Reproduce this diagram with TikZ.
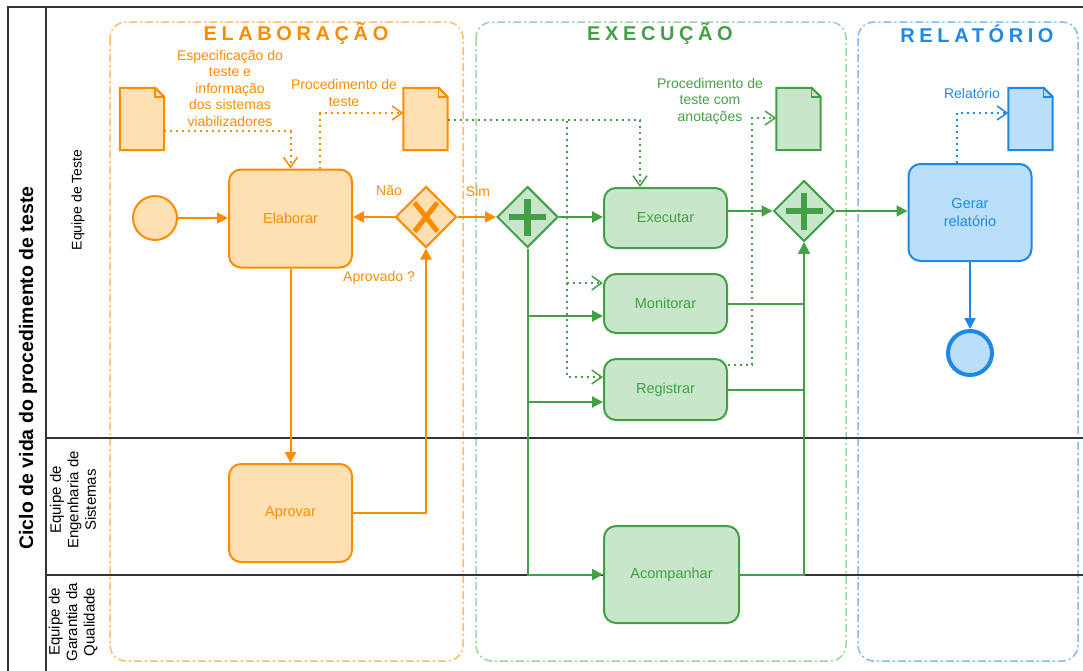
\documentclass[tikz,border=0pt]{standalone}
\usepackage{fontspec}
\setmainfont{Liberation Sans}
\usetikzlibrary{arrows.meta,shapes.geometric}
\definecolor{oStroke}{HTML}{FB8C00}
\definecolor{oFill}{HTML}{FFE0B2}
\definecolor{oPhase}{HTML}{FFBD6B}
\definecolor{gStroke}{HTML}{43A047}
\definecolor{gFill}{HTML}{C8E6C9}
\definecolor{gPhase}{HTML}{9FD3A1}
\definecolor{bStroke}{HTML}{1E88E5}
\definecolor{bFill}{HTML}{BBDEFB}
\definecolor{bPhase}{HTML}{7DBDF3}
\definecolor{poolLine}{HTML}{333333}

% data object with a folded top-right corner, drawn over a named frame node
\newcommand\dataobject[2]{%
  \draw[line width=2pt,draw=#2Stroke,fill=#2Fill,line join=miter]
    (#1.north west) -- ([xshift=-9pt]#1.north east) -- ([yshift=-9pt]#1.north east)
    -- (#1.south east) -- (#1.south west) -- cycle;
  \draw[line width=1.5pt,draw=#2Stroke]
    ([xshift=-9pt]#1.north east) -- ([xshift=-9pt,yshift=-9pt]#1.north east)
    -- ([yshift=-9pt]#1.north east);}

\begin{document}
\begin{tikzpicture}[x=1pt,y=-1pt,
  lbl/.style={font=\fontsize{14}{16.5}\selectfont,align=center,inner sep=0pt},
  task/.style={rounded corners=12pt,line width=2pt,inner sep=0pt,align=center,
    font=\fontsize{14.5}{17.5}\selectfont},
  otask/.style={task,draw=oStroke,fill=oFill,text=oStroke},
  gtask/.style={task,draw=gStroke,fill=gFill,text=gStroke},
  btask/.style={task,draw=bStroke,fill=bFill,text=bStroke},
  gate/.style={diamond,aspect=1,minimum width=61pt,minimum height=61pt,inner sep=0pt,line width=2pt},
  docframe/.style={minimum width=44pt,minimum height=62pt,inner sep=0pt,draw=none},
  phase/.style={rounded corners=16pt,line width=1.5pt,dash pattern=on 8pt off 3pt on 2pt off 3pt},
  phasetitle/.style={font=\fontsize{20}{22}\bfseries\selectfont\addfontfeature{LetterSpace=23}},
  flow/.style={line width=2pt,-{Triangle[length=11pt,width=11pt]}},
  assoc/.style={line width=2pt,dash pattern=on 2pt off 4pt,
    -{Straight Barb[length=10pt,width=14pt,line width=1.5pt]}},
  poolrule/.style={line width=2pt,draw=poolLine},
  lanelabel/.style={rotate=90,align=center,font=\fontsize{15}{17.5}\selectfont}
]
\useasboundingbox (0,0) rectangle (1083,670);

% phase containers
\draw[phase,draw=oPhase] (110,22) rectangle (463,661);
\draw[phase,draw=gPhase] (476,22) rectangle (846,661);
\draw[phase,draw=bPhase] (858,22) rectangle (1078,661);

\node[phasetitle,text=oStroke] (tElab) at (296,34) {ELABORAÇÃO};
\node[phasetitle,text=gStroke] (tExec) at (660,34) {EXECUÇÃO};
\node[phasetitle,text=bStroke] (tRel) at (977,34) {RELATÓRIO};

% pool and lanes
\draw[poolrule] (1085,7) -- (8,7) -- (8,672);
\draw[poolrule] (46,7) -- (46,672);
\draw[poolrule] (46,438) -- (1085,438);
\draw[poolrule] (46,575) -- (1085,575);

\node[rotate=90,font=\fontsize{19.5}{22}\bfseries\selectfont] (pool) at (28,368)
  {Ciclo de vida do procedimento de teste};
\node[lanelabel,font=\fontsize{14}{16.5}\selectfont] (lane1) at (78,200) {Equipe de Teste};
\node[lanelabel] (lane2) at (73,500) {Equipe de\\Engenharia de\\Sistemas};
\node[lanelabel] (lane3) at (73,622) {Equipe de\\Garantia da\\Qualidade};

% flow objects
\node[circle,minimum size=44pt,inner sep=0pt,line width=2pt,draw=oStroke,fill=oFill] (start) at (155,218) {};
\node[otask,minimum width=123pt,minimum height=98pt] (elab) at (290.5,218.5) {Elaborar};
\node[otask,minimum width=123pt,minimum height=98pt] (apr) at (290.5,513) {Aprovar};
\node[gate,draw=oStroke,fill=oFill] (gx) at (426,217) {};
\draw[oStroke,line width=5pt] ([shift={(-11.5,-14.5)}]gx.center) -- ([shift={(11.5,14.5)}]gx.center);
\draw[oStroke,line width=5pt] ([shift={(11.5,-14.5)}]gx.center) -- ([shift={(-11.5,14.5)}]gx.center);

\node[gate,draw=gStroke,fill=gFill] (g1) at (527.5,217) {};
\draw[gStroke,line width=6.5pt] ([shift={(-18.5,0)}]g1.center) -- ([shift={(18.5,0)}]g1.center);
\draw[gStroke,line width=6.5pt] ([shift={(0,-18.5)}]g1.center) -- ([shift={(0,18.5)}]g1.center);

\node[gtask,minimum width=123pt,minimum height=60pt] (exe) at (665.5,218) {Executar};
\node[gtask,minimum width=123pt,minimum height=59pt] (mon) at (665.5,303.5) {Monitorar};
\node[gtask,minimum width=123pt,minimum height=61pt] (reg) at (665.5,389.5) {Registrar};
\node[gtask,minimum width=135pt,minimum height=97pt] (acomp) at (671.5,574.5) {Acompanhar};

\node[gate,draw=gStroke,fill=gFill] (g2) at (804,211) {};
\draw[gStroke,line width=6.5pt] ([shift={(-18.5,0)}]g2.center) -- ([shift={(18.5,0)}]g2.center);
\draw[gStroke,line width=6.5pt] ([shift={(0,-18.5)}]g2.center) -- ([shift={(0,18.5)}]g2.center);

\node[btask,minimum width=123pt,minimum height=97pt] (ger) at (970,212.5) {Gerar\\relatório};
\node[circle,minimum size=44pt,inner sep=0pt,line width=4pt,draw=bStroke,fill=bFill] (endev) at (970,353) {};

% data objects
\node[docframe] (doc1) at (142,119) {};
\node[docframe] (doc2) at (425.5,119) {};
\node[docframe] (doc3) at (798.5,119) {};
\node[docframe] (doc4) at (1030.5,119) {};
\dataobject{doc1}{o}
\dataobject{doc2}{o}
\dataobject{doc3}{g}
\dataobject{doc4}{b}

% annotations
\node[lbl,text=oStroke] (aSpec) at (230,88)
  {Especificação do\\teste e\\informação\\dos sistemas\\viabilizadores};
\node[lbl,text=oStroke] (aProc) at (344,93) {Procedimento de\\teste};
\node[lbl,text=gStroke] (aAnot) at (710,101) {Procedimento de\\teste com\\anotações};
\node[lbl,text=bStroke] (aRel) at (972,93) {Relatório};
\node[lbl,text=oStroke] (lNao) at (389,191) {Não};
\node[lbl,text=oStroke] (lSim) at (478,191) {Sim};
\node[lbl,text=oStroke] (lAprov) at (379,278) {Aprovado ?};

% elaboration connectors
\draw[flow,oStroke] (start.east) -- (start.east -| elab.west);
\draw[assoc,oStroke] (doc1.east |- 0,131) -| (elab.north);
\draw[assoc,oStroke] (elab.north -| 320,0) |- (doc2.west |- 0,113);
\draw[flow,oStroke] (gx.west) -- (gx.west -| elab.east);
\draw[flow,oStroke] (gx.east) -- (g1.west);
\draw[flow,oStroke] (elab.south) -- (apr.north);
\draw[flow,oStroke] (apr.east) -| (gx.south);

% execution connectors
\draw[assoc,gStroke] (doc2.east |- 0,120) -| (exe.north -| 640,0);
\draw[assoc,gStroke] (doc2.east |- 0,120) -| (567,283) -- (mon.west |- 0,283);
\draw[assoc,gStroke] (doc2.east |- 0,120) -| (567,377) -- (reg.west |- 0,377);
\draw[assoc,gStroke] (reg.east |- 0,365) -| (752,118) -- (doc3.west |- 0,118);
\draw[flow,gStroke] (g1.east) -- (g1.east -| exe.west);
\draw[flow,gStroke] (g1.south) |- (mon.west |- 0,316);
\draw[flow,gStroke] (g1.south) |- (reg.west |- 0,402);
\draw[flow,gStroke] (g1.south) |- (acomp.west);
\draw[flow,gStroke] (exe.east |- g2.west) -- (g2.west);
\draw[flow,gStroke] (mon.east) -| (g2.south);
\draw[flow,gStroke] (reg.east) -| (g2.south);
\draw[flow,gStroke] (acomp.east) -| (g2.south);
\draw[flow,gStroke] (g2.east) -- (g2.east -| ger.west);

% report connectors
\draw[assoc,bStroke] (ger.north -| 957,0) |- (doc4.west |- 0,113);
\draw[flow,bStroke] (ger.south) -- (endev.north);
\end{tikzpicture}
\end{document}
